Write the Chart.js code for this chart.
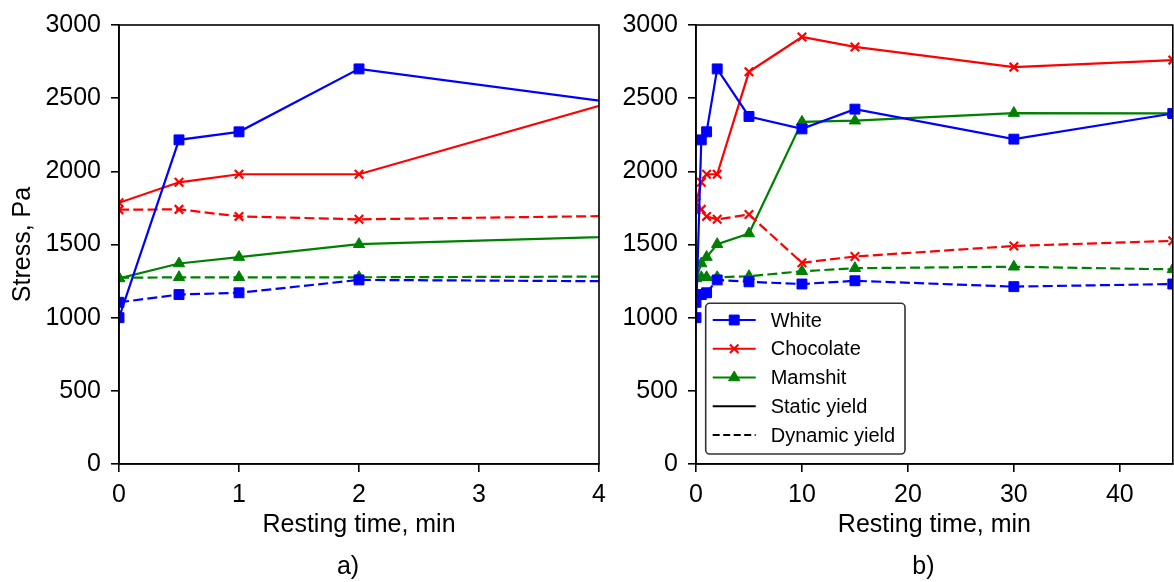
<!DOCTYPE html>
<html>
<head>
<meta charset="utf-8">
<script src="https://cdn.jsdelivr.net/npm/chart.js@4.4.1/dist/chart.umd.min.js"></script>
<style>
  html, body { margin: 0; padding: 0; background: #fff; overflow: hidden; width: 1174px; height: 582px; }
  canvas { position: absolute; top: 0; }
  #left { left: 0; width: 615px; height: 582px; }
  #right { left: 615px; width: 566px; height: 582px; }
</style>
</head>
<body>
<canvas id="left" width="615" height="582"></canvas>
<canvas id="right" width="566" height="582"></canvas>
<script>
    // resting time (min) and yield stress (Pa)
    const restingTime = [0, 0.5, 1, 2, 5, 10, 15, 30, 45];
    const whiteStatic = [1000, 2215, 2270, 2700, 2375, 2290, 2425, 2220, 2395];
    const whiteDynamic = [1105, 1158, 1170, 1258, 1245, 1230, 1252, 1212, 1230];
    const chocolateStatic = [1785, 1925, 1980, 1980, 2680, 2918, 2850, 2712, 2760];
    const chocolateDynamic = [1738, 1740, 1692, 1672, 1705, 1375, 1418, 1490, 1525];
    const mamshitStatic = [1268, 1370, 1414, 1502, 1575, 2338, 2346, 2398, 2396];
    const mamshitDynamic = [1272, 1276, 1276, 1276, 1283, 1317, 1338, 1348, 1330];

    const legendLabels = ['White', 'Chocolate', 'Mamshit', 'Static yield', 'Dynamic yield'];
    const yTicks = [0, 500, 1000, 1500, 2000, 2500, 3000];

    const FONT = '"Liberation Sans", Arial, sans-serif';
    const DASH = [10, 4.3];
    const LW = 2.2;

    const styles = {
      White: { color: '#0000ff', pointStyle: 'rect', radius: 7, bw: 1 },
      Chocolate: { color: '#ff0000', pointStyle: 'crossRot', radius: 6, bw: 2.2 },
      Mamshit: { color: '#008000', pointStyle: 'triangle', radius: 6.5, bw: 1 },
    };

    function series(name, values, dashed) {
      const s = styles[name];
      return {
        label: name + (dashed ? ' dynamic' : ' static'),
        data: restingTime.map((t, i) => ({ x: t, y: values[i] })),
        borderColor: s.color,
        backgroundColor: s.color,
        borderWidth: LW,
        borderDash: dashed ? DASH : [],
        pointStyle: s.pointStyle,
        pointRadius: s.radius,
        pointBorderWidth: s.bw,
        pointBackgroundColor: s.color,
        pointBorderColor: s.color,
        tension: 0,
      };
    }

    function makeDatasets() {
      return [
        series('White', whiteStatic, false),
        series('White', whiteDynamic, true),
        series('Chocolate', chocolateStatic, false),
        series('Chocolate', chocolateDynamic, true),
        series('Mamshit', mamshitStatic, false),
        series('Mamshit', mamshitDynamic, true),
      ];
    }

    const decor = {
      id: 'decor',
      afterDraw(chart, args, o) {
        const { ctx, chartArea: a } = chart;
        ctx.save();
        ctx.strokeStyle = '#000';
        ctx.lineWidth = 1.6;
        ctx.strokeRect(a.left, a.top, a.right - a.left, a.bottom - a.top);
        ctx.fillStyle = '#000';
        ctx.textAlign = 'center';
        ctx.textBaseline = 'alphabetic';
        const cx = (a.left + a.right) / 2;
        ctx.font = '25px ' + FONT;
        ctx.fillText('Resting time, min', cx, 532);
        ctx.fillText(o.panel, cx - 11, 574);
        if (o.yTitle) {
          ctx.translate(30, (a.top + a.bottom) / 2);
          ctx.rotate(-Math.PI / 2);
          ctx.fillText(o.yTitle, 0, 0);
        }
        ctx.restore();
      }
    };

    const legendBox = {
      id: 'legendBox',
      afterDraw(chart, args, o) {
        if (!o.show) return;
        const { ctx, chartArea: a } = chart;
        const x0 = a.left + 9.7, y0 = 303.3, w = 199.3, h = 150.7;
        ctx.save();
        ctx.beginPath();
        ctx.roundRect(x0, y0, w, h, 4);
        ctx.fillStyle = '#fff';
        ctx.fill();
        ctx.strokeStyle = '#333';
        ctx.lineWidth = 1.6;
        ctx.stroke();
        const entries = [
          { color: styles.White.color, st: styles.White, dash: [] },
          { color: styles.Chocolate.color, st: styles.Chocolate, dash: [] },
          { color: styles.Mamshit.color, st: styles.Mamshit, dash: [] },
          { color: '#000', st: null, dash: [] },
          { color: '#000', st: null, dash: [7, 3.5] },
        ];
        entries.forEach((e, i) => {
          const y = 320 + i * 28.75;
          const lx = a.left + 16.7;
          ctx.strokeStyle = e.color;
          ctx.lineWidth = LW;
          ctx.setLineDash(e.dash);
          ctx.beginPath();
          ctx.moveTo(lx, y);
          ctx.lineTo(lx + 43, y);
          ctx.stroke();
          ctx.setLineDash([]);
          if (e.st) {
            ctx.fillStyle = e.color;
            ctx.lineWidth = e.st.bw;
            Chart.helpers.drawPoint(ctx, { pointStyle: e.st.pointStyle, radius: e.st.radius, rotation: 0, borderWidth: e.st.bw }, lx + 21.5, y);
          }
          ctx.fillStyle = '#000';
          ctx.font = '20px ' + FONT;
          ctx.textAlign = 'left';
          ctx.textBaseline = 'middle';
          ctx.fillText(legendLabels[i], a.left + 74.7, y + 1);
        });
        ctx.restore();
      }
    };

    function makeChart(id, xMax, xStep, yWidth, padRight, panel, yTitle, showLegend) {
      return new Chart(document.getElementById(id), {
        type: 'line',
        data: { datasets: makeDatasets() },
        plugins: [decor, legendBox],
        options: {
          responsive: false,
          animation: false,
          layout: { padding: { top: 22, right: padRight, bottom: 78, left: 0 } },
          plugins: {
            legend: { display: false },
            tooltip: { enabled: false },
            decor: { panel: panel, yTitle: yTitle },
            legendBox: { show: showLegend },
          },
          scales: {
            x: {
              type: 'linear',
              min: 0,
              max: xMax,
              afterFit: (s) => { s.height = 40; },
              grid: { drawOnChartArea: false, drawTicks: true, tickLength: 8, color: '#000', lineWidth: 1.6 },
              border: { display: true, color: '#000', width: 1.6 },
              ticks: { stepSize: xStep, includeBounds: false, color: '#000', padding: 8, maxRotation: 0,
                       callback: (v) => String(v), font: { family: FONT, size: 25 } },
            },
            y: {
              min: 0,
              max: 3000,
              afterFit: (s) => { s.width = yWidth; },
              afterBuildTicks: (s) => { s.ticks = yTicks.map(v => ({ value: v })); },
              grid: { drawOnChartArea: false, drawTicks: true, tickLength: 8, color: '#000', lineWidth: 1.6 },
              border: { display: true, color: '#000', width: 1.6 },
              ticks: { color: '#000', padding: 10, callback: (v) => String(v), font: { family: FONT, size: 25 } },
            },
          },
        },
      });
    }

    makeChart('left', 4, 1, 119, 16, 'a)', 'Stress, Pa', false);
    makeChart('right', 45, 10, 81, 5, 'b)', null, true);
</script>
</body>
</html>
